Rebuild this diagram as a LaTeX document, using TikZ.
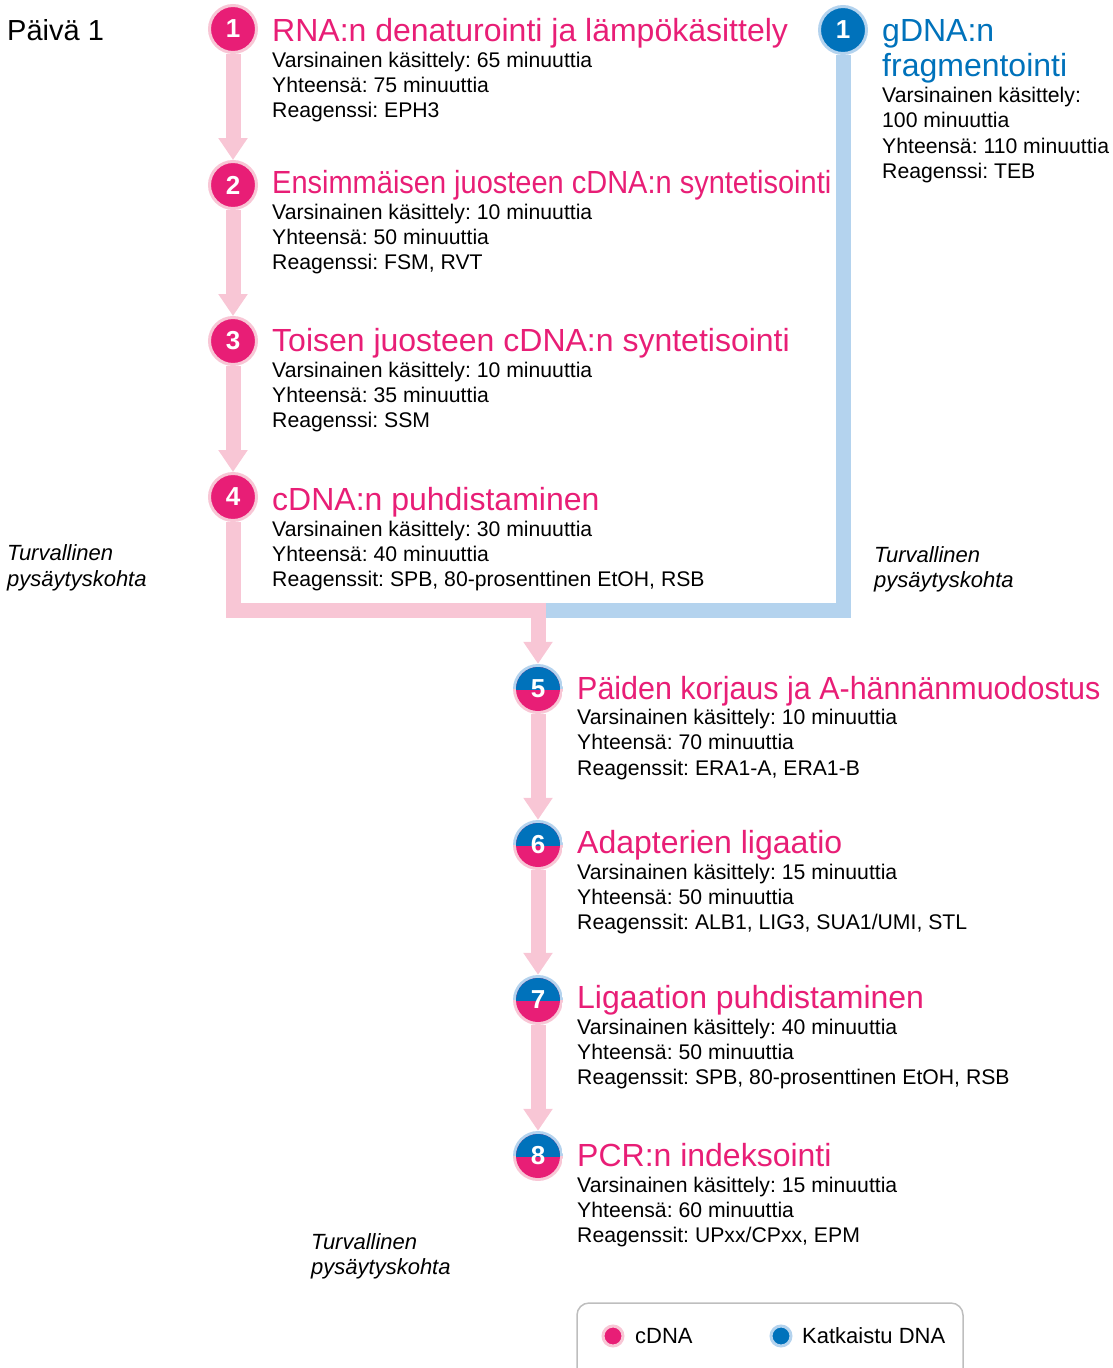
\documentclass[tikz,border=0pt]{standalone}
\usepackage{fontspec}
\setmainfont{Liberation Sans}
\usetikzlibrary{positioning, arrows.meta, calc}
\definecolor{cdnapink}{RGB}{232, 30, 118}
\definecolor{lightpink}{RGB}{248, 198, 213}
\definecolor{dnablue}{RGB}{0, 114, 187}
\definecolor{lightblue}{RGB}{180, 211, 238}
\definecolor{framegray}{RGB}{190, 190, 190}
\frenchspacing

\begin{document}
\begin{tikzpicture}[x=1pt, y=-1pt,
  numdot/.style={circle, fill=cdnapink, draw=lightpink, line width=3pt, minimum size=47pt, inner sep=0pt, text=white, font=\fontsize{26}{26}\selectfont\bfseries},
  bluedot/.style={numdot, fill=dnablue, draw=lightblue},
  mixdot/.style={circle, minimum size=50pt, inner sep=0pt, text=white, font=\fontsize{26}{26}\selectfont\bfseries,
    path picture={
      \fill[lightpink] (path picture bounding box.west) rectangle (path picture bounding box.south east);
      \fill[lightblue] (path picture bounding box.north west) rectangle (path picture bounding box.east);
      \fill[cdnapink] (path picture bounding box.center) circle (22pt);
      \clip (path picture bounding box.north west) rectangle (path picture bounding box.east);
      \fill[dnablue] (path picture bounding box.center) circle (22pt);
    }},
  legdot/.style={circle, fill=#1, minimum size=20pt, inner sep=0pt, line width=3pt},
  stitle/.style={anchor=base west, inner sep=0pt, text=cdnapink, font=\fontsize{32}{35}\selectfont},
  sbody/.style={anchor=north west, inner sep=0pt, align=left, font=\fontsize{21.2}{25.3}\selectfont},
  snote/.style={anchor=north west, inner sep=0pt, align=left, font=\fontsize{22}{25.5}\selectfont\itshape},
  pinkline/.style={lightpink, line width=15pt, -{Triangle[width=28pt, length=22pt]}},
  pinkbar/.style={lightpink, line width=15pt, line join=miter},
  bluebar/.style={lightblue, line width=15pt, line join=miter}]
 \useasboundingbox (0, 0) rectangle (1112, 1368);

 \node[anchor=base west, inner sep=0pt, font=\fontsize{29}{29}\selectfont] (day) at (7, 40) {Päivä 1};

 % cDNA steps
 \node[numdot] (c1) at (233, 29) {1};
 \node[numdot] (c2) at (233, 185) {2};
 \node[numdot] (c3) at (233, 341) {3};
 \node[numdot] (c4) at (233, 497) {4};
 \node[stitle] (t1) at (272, 41.5) {RNA:n denaturointi ja lämpökäsittely};
 \node[sbody] (b1) at (272, 51.5) {Varsinainen käsittely: 65 minuuttia\\Yhteensä: 75 minuuttia\\Reagenssi: EPH3};
 \node[stitle] (t2) at (272, 193.5) {\scalebox{0.906}[1]{Ensimmäisen juosteen cDNA:n syntetisointi}};
 \node[sbody] (b2) at (272, 203.5) {Varsinainen käsittely: 10 minuuttia\\Yhteensä: 50 minuuttia\\Reagenssi: FSM, RVT};
 \node[stitle] (t3) at (272, 351.5) {Toisen juosteen cDNA:n syntetisointi};
 \node[sbody] (b3) at (272, 361.5) {Varsinainen käsittely: 10 minuuttia\\Yhteensä: 35 minuuttia\\Reagenssi: SSM};
 \node[stitle] (t4) at (272, 510.5) {cDNA:n puhdistaminen};
 \node[sbody] (b4) at (272, 520.5) {Varsinainen käsittely: 30 minuuttia\\Yhteensä: 40 minuuttia\\Reagenssit: SPB, 80-prosenttinen EtOH, RSB};

 % gDNA step
 \node[bluedot] (g1) at (843, 30) {1};
 \node[anchor=north west, inner sep=0pt, align=left, text=dnablue, font=\fontsize{32}{35}\selectfont] (gt) at (882, 19.5) {gDNA:n\\fragmentointi};
 \node[sbody] (gb) at (882, 87) {Varsinainen käsittely:\\100 minuuttia\\Yhteensä: 110 minuuttia\\Reagenssi: TEB};

 % shared steps
 \node[mixdot] (c5) at (538, 689) {5};
 \node[mixdot] (c6) at (538, 845) {6};
 \node[mixdot] (c7) at (538, 1000) {7};
 \node[mixdot] (c8) at (538, 1156) {8};
 \node[stitle] (t5) at (577, 699) {\scalebox{0.952}[1]{Päiden korjaus ja A-hännänmuodostus}};
 \node[sbody] (b5) at (577, 709) {Varsinainen käsittely: 10 minuuttia\\Yhteensä: 70 minuuttia\\Reagenssit: ERA1-A, ERA1-B};
 \node[stitle] (t6) at (577, 853.5) {Adapterien ligaatio};
 \node[sbody] (b6) at (577, 863.5) {Varsinainen käsittely: 15 minuuttia\\Yhteensä: 50 minuuttia\\Reagenssit: ALB1, LIG3, SUA1/UMI, STL};
 \node[stitle] (t7) at (577, 1008.5) {Ligaation puhdistaminen};
 \node[sbody] (b7) at (577, 1018.5) {Varsinainen käsittely: 40 minuuttia\\Yhteensä: 50 minuuttia\\Reagenssit: SPB, 80-prosenttinen EtOH, RSB};
 \node[stitle] (t8) at (577, 1166.5) {PCR:n indeksointi};
 \node[sbody] (b8) at (577, 1176.5) {Varsinainen käsittely: 15 minuuttia\\Yhteensä: 60 minuuttia\\Reagenssit: UPxx/CPxx, EPM};

 % safe stopping points
 \node[snote] (n1) at (7, 544.5) {Turvallinen\\pysäytyskohta};
 \node[snote] (n2) at (874, 546) {Turvallinen\\pysäytyskohta};
 \node[snote] (n3) at (311, 1233) {Turvallinen\\pysäytyskohta};

 % connectors
 \draw[pinkline] (c1) -- (c2);
 \draw[pinkline] (c2) -- (c3);
 \draw[pinkline] (c3) -- (c4);
 \coordinate (merge) at (538, 610);
 \draw[bluebar] (g1) |- ([xshift=7.5pt]merge);
 \draw[pinkbar] (c4) |- ([xshift=7.5pt]merge);
 \draw[pinkline] ([yshift=7.5pt]merge) -- (c5);
 \draw[pinkline] (c5) -- (c6);
 \draw[pinkline] (c6) -- (c7);
 \draw[pinkline] (c7) -- (c8);

 % legend
 \draw[framegray, line width=1.5pt, rounded corners=12pt] (577, 1380) |- (963, 1303) -- (963, 1380);
 \node[legdot=cdnapink, draw=lightpink] (lp) at (613, 1336) {};
 \node[anchor=base west, inner sep=0pt, font=\fontsize{22}{22}\selectfont] (lpt) at (635, 1343) {cDNA};
 \node[legdot=dnablue, draw=lightblue] (lb) at (781, 1336) {};
 \node[anchor=base west, inner sep=0pt, font=\fontsize{22}{22}\selectfont] (lbt) at (802, 1343) {Katkaistu DNA};
\end{tikzpicture}
\end{document}
